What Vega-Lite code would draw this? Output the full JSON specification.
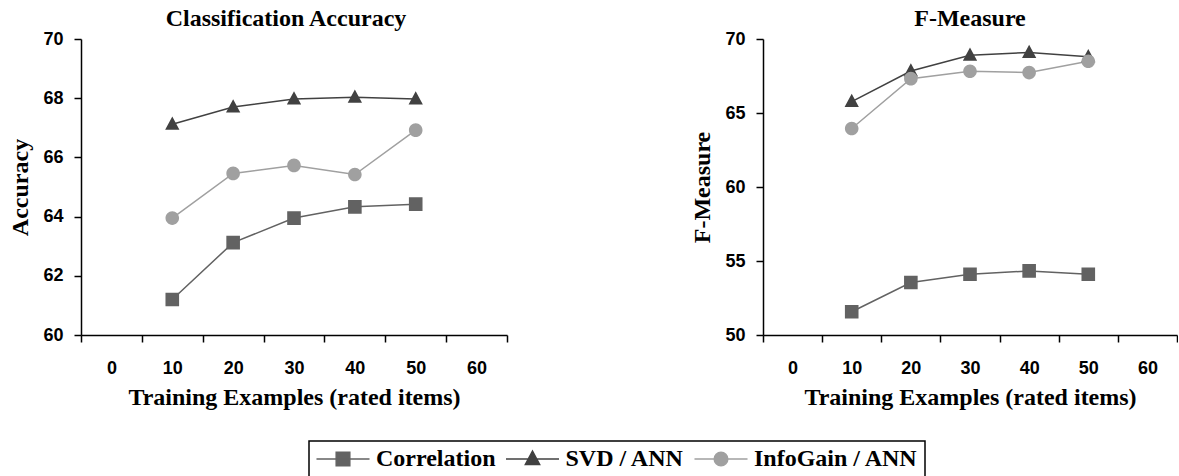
{
  "$schema": "https://vega.github.io/schema/vega-lite/v6.json",
  "padding": {"left": 8, "top": 7, "right": 0, "bottom": 0},
  "bounds": "flush",
  "spacing": 256,
  "background": "white",
  "data": {
    "values": [
      {"metric": "Accuracy", "series": "Correlation", "examples": 10, "value": 61.2},
      {"metric": "Accuracy", "series": "Correlation", "examples": 20, "value": 63.12},
      {"metric": "Accuracy", "series": "Correlation", "examples": 30, "value": 63.95},
      {"metric": "Accuracy", "series": "Correlation", "examples": 40, "value": 64.33},
      {"metric": "Accuracy", "series": "Correlation", "examples": 50, "value": 64.42},
      {"metric": "Accuracy", "series": "SVD / ANN", "examples": 10, "value": 67.12},
      {"metric": "Accuracy", "series": "SVD / ANN", "examples": 20, "value": 67.7},
      {"metric": "Accuracy", "series": "SVD / ANN", "examples": 30, "value": 67.97},
      {"metric": "Accuracy", "series": "SVD / ANN", "examples": 40, "value": 68.03},
      {"metric": "Accuracy", "series": "SVD / ANN", "examples": 50, "value": 67.97},
      {"metric": "Accuracy", "series": "InfoGain / ANN", "examples": 10, "value": 63.95},
      {"metric": "Accuracy", "series": "InfoGain / ANN", "examples": 20, "value": 65.46},
      {"metric": "Accuracy", "series": "InfoGain / ANN", "examples": 30, "value": 65.73},
      {"metric": "Accuracy", "series": "InfoGain / ANN", "examples": 40, "value": 65.42},
      {"metric": "Accuracy", "series": "InfoGain / ANN", "examples": 50, "value": 66.92},
      {"metric": "F-Measure", "series": "Correlation", "examples": 10, "value": 51.57},
      {"metric": "F-Measure", "series": "Correlation", "examples": 20, "value": 53.55},
      {"metric": "F-Measure", "series": "Correlation", "examples": 30, "value": 54.1},
      {"metric": "F-Measure", "series": "Correlation", "examples": 40, "value": 54.33},
      {"metric": "F-Measure", "series": "Correlation", "examples": 50, "value": 54.1},
      {"metric": "F-Measure", "series": "SVD / ANN", "examples": 10, "value": 65.77},
      {"metric": "F-Measure", "series": "SVD / ANN", "examples": 20, "value": 67.84},
      {"metric": "F-Measure", "series": "SVD / ANN", "examples": 30, "value": 68.9},
      {"metric": "F-Measure", "series": "SVD / ANN", "examples": 40, "value": 69.09},
      {"metric": "F-Measure", "series": "SVD / ANN", "examples": 50, "value": 68.8},
      {"metric": "F-Measure", "series": "InfoGain / ANN", "examples": 10, "value": 63.95},
      {"metric": "F-Measure", "series": "InfoGain / ANN", "examples": 20, "value": 67.32},
      {"metric": "F-Measure", "series": "InfoGain / ANN", "examples": 30, "value": 67.82},
      {"metric": "F-Measure", "series": "InfoGain / ANN", "examples": 40, "value": 67.73},
      {"metric": "F-Measure", "series": "InfoGain / ANN", "examples": 50, "value": 68.5}
    ]
  },
  "config": {
    "view": {"stroke": null},
    "font": "Liberation Sans",
    "axis": {
      "domainColor": "black", "domainWidth": 1.5, "tickColor": "black", "tickWidth": 1.5, "tickSize": 7,
      "labelFont": "Liberation Sans", "labelFontWeight": "bold", "labelFontSize": 18, "labelColor": "black",
      "titleFont": "Liberation Serif", "titleFontWeight": "bold", "titleFontSize": 24, "titleColor": "black",
      "grid": false
    },
    "axisX": {"labelPadding": 17, "titlePadding": 8, "labelAngle": 0},
    "axisY": {"labelPadding": 11, "titlePadding": 10},
    "title": {"font": "Liberation Serif", "fontSize": 24, "fontWeight": "bold", "color": "black", "anchor": "middle", "frame": "group", "offset": -1},
    "legend": {
      "labelFont": "Liberation Serif", "labelFontSize": 24, "labelFontWeight": "bold", "labelColor": "black",
      "strokeColor": "black", "strokeWidth": 1.5, "fillColor": "white", "padding": 6,
      "symbolSize": 185, "symbolOffset": 16, "labelOffset": 21, "columnPadding": 6.5,
      "symbolStrokeWidth": 1.5, "symbolOpacity": 1, "labelLimit": 400
    }
  },
  "resolve": {"scale": {"color": "shared", "shape": "shared", "stroke": "shared"}},
  "hconcat": [
    {
      "width": 426,
      "height": 296,
      "title": {"text": "Classification Accuracy", "dx": -8},
      "transform": [{"filter": "datum.metric === 'Accuracy'"}],
      "encoding": {
        "x": {
          "field": "examples", "type": "ordinal", "bandPosition": 0.5,
          "scale": {"type": "band", "domain": [0, 10, 20, 30, 40, 50, 60], "paddingInner": 0, "paddingOuter": 0},
          "axis": {"title": "Training Examples (rated items)", "tickBand": "extent"}
        },
        "y": {
          "field": "value", "type": "quantitative",
          "scale": {"domain": [60, 70], "nice": false, "zero": false},
          "axis": {"title": "Accuracy", "values": [60, 62, 64, 66, 68, 70]}
        }
      },
      "layer": [
        {
          "mark": {"type": "line", "strokeWidth": 1.5},
          "encoding": {
            "stroke": {"field": "series", "type": "nominal",
              "scale": {"domain": ["Correlation", "SVD / ANN", "InfoGain / ANN"], "range": ["#626262", "#414141", "#a0a0a0"]},
              "legend": {"title": null, "orient": "none", "direction": "horizontal", "legendX": 228, "legendY": 402}}
          }
        },
        {
          "mark": {"type": "point", "filled": true, "opacity": 1, "size": 185, "strokeWidth": 0},
          "encoding": {
            "color": {"field": "series", "type": "nominal",
              "scale": {"domain": ["Correlation", "SVD / ANN", "InfoGain / ANN"], "range": ["#626262", "#414141", "#a0a0a0"]},
              "legend": {"title": null, "orient": "none", "direction": "horizontal", "legendX": 228, "legendY": 402}},
            "shape": {"field": "series", "type": "nominal",
              "scale": {"domain": ["Correlation", "SVD / ANN", "InfoGain / ANN"],
                "range": ["M-3.9,0H3.9M-1,-1H1V1H-1Z", "M-3.9,0H3.9M0,-1.15L1.05,0.8H-1.05Z", "M-3.9,0H3.9M-1,0a1,1 0 1,0 2,0a1,1 0 1,0 -2,0Z"]},
              "legend": {"title": null, "orient": "none", "direction": "horizontal", "legendX": 228, "legendY": 402}}
          }
        }
      ]
    },
    {
      "width": 414,
      "height": 296,
      "title": {"text": "F-Measure"},
      "transform": [{"filter": "datum.metric === 'F-Measure'"}],
      "encoding": {
        "x": {
          "field": "examples", "type": "ordinal", "bandPosition": 0.5,
          "scale": {"type": "band", "domain": [0, 10, 20, 30, 40, 50, 60], "paddingInner": 0, "paddingOuter": 0},
          "axis": {"title": "Training Examples (rated items)", "tickBand": "extent"}
        },
        "y": {
          "field": "value", "type": "quantitative",
          "scale": {"domain": [50, 70], "nice": false, "zero": false},
          "axis": {"title": "F-Measure", "values": [50, 55, 60, 65, 70]}
        }
      },
      "layer": [
        {
          "mark": {"type": "line", "strokeWidth": 1.5},
          "encoding": {
            "stroke": {"field": "series", "type": "nominal",
              "scale": {"domain": ["Correlation", "SVD / ANN", "InfoGain / ANN"], "range": ["#626262", "#414141", "#a0a0a0"]},
              "legend": {"title": null, "orient": "none", "direction": "horizontal", "legendX": 228, "legendY": 402}}
          }
        },
        {
          "mark": {"type": "point", "filled": true, "opacity": 1, "size": 185, "strokeWidth": 0},
          "encoding": {
            "color": {"field": "series", "type": "nominal",
              "scale": {"domain": ["Correlation", "SVD / ANN", "InfoGain / ANN"], "range": ["#626262", "#414141", "#a0a0a0"]},
              "legend": {"title": null, "orient": "none", "direction": "horizontal", "legendX": 228, "legendY": 402}},
            "shape": {"field": "series", "type": "nominal",
              "scale": {"domain": ["Correlation", "SVD / ANN", "InfoGain / ANN"],
                "range": ["M-3.9,0H3.9M-1,-1H1V1H-1Z", "M-3.9,0H3.9M0,-1.15L1.05,0.8H-1.05Z", "M-3.9,0H3.9M-1,0a1,1 0 1,0 2,0a1,1 0 1,0 -2,0Z"]},
              "legend": {"title": null, "orient": "none", "direction": "horizontal", "legendX": 228, "legendY": 402}}
          }
        }
      ]
    }
  ]
}
